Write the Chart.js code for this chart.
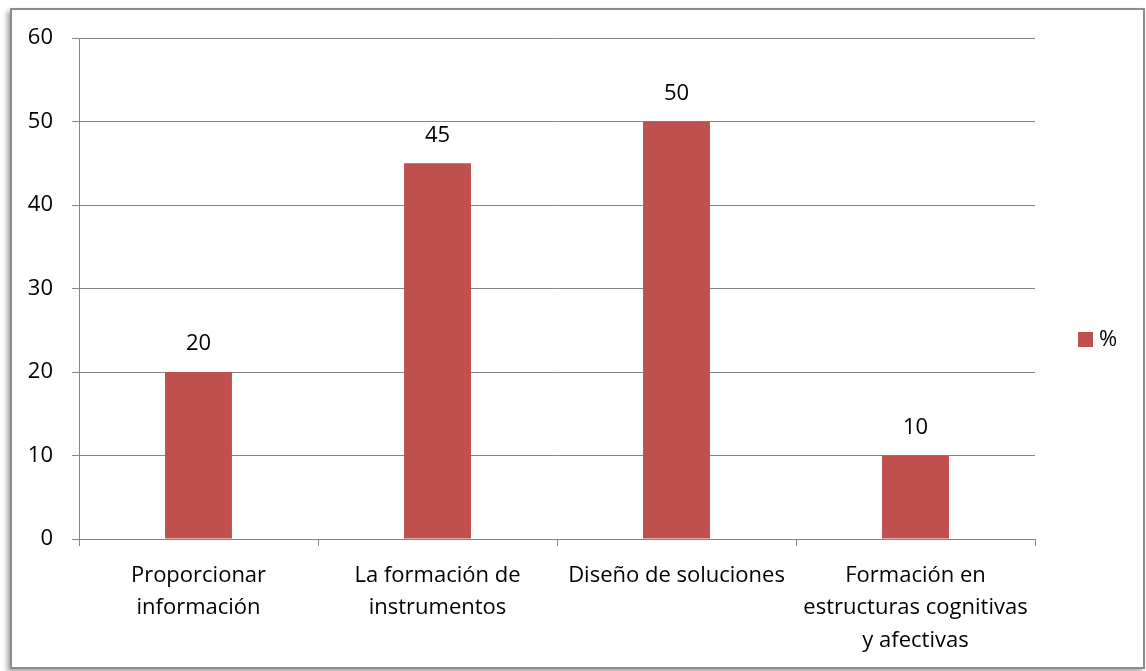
<!DOCTYPE html>
<html lang="es">
<head>
<meta charset="UTF-8">
<title>Gráfico %</title>
<script src="https://cdn.jsdelivr.net/npm/chart.js"></script>
<style>
  html, body { margin: 0; padding: 0; background: #fff; }
  #wrap { position: relative; width: 1146px; height: 671px; }
  #frame {
    position: absolute; left: 10px; top: 8px; width: 1131px; height: 657px;
    border: 2px solid #8c8c8c;
    box-shadow: -3px 3px 5px rgba(0,0,0,0.35);
    pointer-events: none;
  }
  canvas { position: absolute; left: 0; top: 0; }
</style>
</head>
<body>
<div id="wrap">
  <div id="frame"></div>
  <canvas id="chart" width="1146" height="671"></canvas>
</div>
<script>
const categories = [
  ['Proporcionar', 'información'],
  ['La formación de', 'instrumentos'],
  ['Diseño de soluciones'],
  ['Formación en', 'estructuras cognitivas', 'y afectivas']
];
const seriesName = '%';
const values = [20, 45, 50, 10];
const yTicks = [0, 10, 20, 30, 40, 50, 60];

const FONT = '"Open Sans", "Liberation Sans", sans-serif';
const FSIZE = 22;
const BAR = '#C0504D';
const GRID = '#868686';

// etiquetas de valor sobre cada barra + leyenda a la derecha
const extras = {
  id: 'extras',
  afterDatasetsDraw(chart) {
    const ctx = chart.ctx;
    ctx.save();
    ctx.font = FSIZE + 'px ' + FONT;
    ctx.fillStyle = '#000';
    ctx.textAlign = 'center';
    ctx.textBaseline = 'middle';
    chart.getDatasetMeta(0).data.forEach((bar, i) => {
      ctx.fillText(String(values[i]), bar.x, bar.y - 28);
    });
    // leyenda
    const ds = chart.data.datasets[0];
    ctx.fillStyle = ds.backgroundColor;
    ctx.fillRect(1078, 332, 15, 15);
    ctx.fillStyle = '#000';
    ctx.textAlign = 'left';
    ctx.fillText(ds.label, 1099, 340);
    ctx.restore();
  }
};

new Chart(document.getElementById('chart'), {
  type: 'bar',
  data: {
    labels: categories,
    datasets: [{
      label: seriesName,
      data: values,
      backgroundColor: BAR,
      categoryPercentage: 1,
      barPercentage: 0.28
    }]
  },
  options: {
    responsive: false,
    animation: false,
    layout: { padding: { top: 38, right: 111, bottom: 0, left: 0 } },
    plugins: { legend: { display: false }, tooltip: { enabled: false } },
    scales: {
      x: {
        grid: { drawOnChartArea: false, drawTicks: true, tickLength: 7, color: GRID, offset: true },
        border: { color: GRID, width: 1 },
        ticks: { color: '#000', font: { family: FONT, size: FSIZE, lineHeight: 1.48 }, padding: 13, maxRotation: 0, autoSkip: false },
        afterFit(scale) { scale.height = 671 - 539; }
      },
      y: {
        min: 0, max: 60,
        afterBuildTicks(scale) { scale.ticks = yTicks.map(v => ({ value: v })); },
        grid: { color: GRID, tickLength: 7 },
        border: { color: GRID, width: 1 },
        ticks: { color: '#000', font: { family: FONT, size: FSIZE }, padding: 19 },
        afterFit(scale) { scale.width = 79; }
      }
    }
  },
  plugins: [extras]
});
</script>
</body>
</html>
